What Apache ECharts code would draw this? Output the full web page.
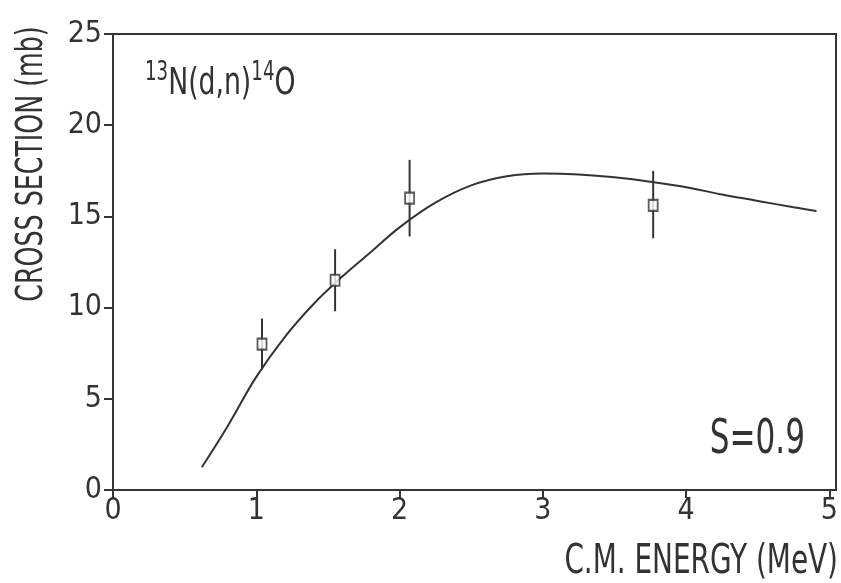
<!DOCTYPE html>
<html><head><meta charset="utf-8">
<script src="https://cdn.jsdelivr.net/npm/echarts@6/dist/echarts.min.js"></script>
<style>html,body{margin:0;padding:0;background:#fff}#c{width:841px;height:583px}</style>
</head><body><div id="c"></div>
<script>
const pointX = [1.04, 1.55, 2.07, 3.77];
const pointY = [8.0, 11.5, 16.0, 15.6];
const errLow = [6.6, 9.8, 13.9, 13.8];
const errHigh = [9.4, 13.2, 18.1, 17.5];
const curveX = [0.62, 0.8, 1.0, 1.2, 1.4, 1.6, 1.8, 2.0, 2.25, 2.5, 2.75, 3.0, 3.25, 3.5, 3.75, 4.0, 4.25, 4.5, 4.75, 4.91];
const curveY = [1.25, 3.5, 6.2, 8.4, 10.2, 11.7, 13.05, 14.4, 15.75, 16.7, 17.2, 17.35, 17.3, 17.15, 16.9, 16.6, 16.2, 15.85, 15.5, 15.3];
const xTicks = [0, 1, 2, 3, 4, 5];
const yTicks = [0, 5, 10, 15, 20, 25];

const FONT = '"DejaVu Sans Condensed","Liberation Sans Narrow","DejaVu Sans",sans-serif';
const INK = '#333';
const chart = echarts.init(document.getElementById('c'));
chart.setOption({
  animation: false,
  grid: {left: 113, right: 5, top: 34, bottom: 93},
  xAxis: {
    type: 'value', min: xTicks[0], max: xTicks[xTicks.length-1], interval: 1,
    axisLine: {lineStyle: {color: INK, width: 2}},
    axisTick: {show: true, inside: false, length: 8, lineStyle: {color: INK, width: 2}},
    axisLabel: {color: INK, fontSize: 30, fontFamily: FONT, margin: 6},
    splitLine: {show: false}
  },
  yAxis: {
    type: 'value', min: yTicks[0], max: yTicks[yTicks.length-1], interval: 5,
    axisLine: {show: true, lineStyle: {color: INK, width: 2}},
    axisTick: {show: true, inside: false, length: 9, lineStyle: {color: INK, width: 2}},
    axisLabel: {color: INK, fontSize: 30, fontFamily: FONT, margin: 11},
    splitLine: {show: false}
  },
  graphic: [
    {type: 'rect', shape: {x: 113, y: 34, width: 723, height: 456}, style: {fill: 'none', stroke: INK, lineWidth: 2}, z: 1},
    {type: 'text', x: 32, y: 164, rotation: Math.PI/2, scaleX: 0.74, style: {text: 'CROSS SECTION (mb)', font: '38px ' + FONT, fill: INK, align: 'center', verticalAlign: 'middle'}},
    {type: 'text', x: 838, y: 563, scaleX: 0.775, style: {text: 'C.M. ENERGY (MeV)', font: '40px ' + FONT, fill: INK, align: 'right', verticalAlign: 'middle'}},
    {type: 'text', x: 805, y: 441, scaleX: 0.72, style: {text: 'S=0.9', font: '48px ' + FONT, fill: INK, align: 'right', verticalAlign: 'middle'}},
    {type: 'text', x: 145, y: 84, scaleX: 0.78, style: {
      text: '{s|13}{n|N(d,n)}{s|14}{n|O}',
      rich: {
        s: {font: '26px ' + FONT, fill: INK, verticalAlign: 'top', padding: [0,0,22,0]},
        n: {font: '38px ' + FONT, fill: INK}
      }, verticalAlign: 'middle'}}
  ],
  series: [
    {type: 'line', data: curveX.map((x, i) => [x, curveY[i]]), smooth: 0.4, showSymbol: false,
     lineStyle: {color: INK, width: 2}},
    {type: 'custom', data: pointX.map((x, i) => [x, errLow[i], errHigh[i]]),
     renderItem: function (params, api) {
       const lo = api.coord([api.value(0), api.value(1)]);
       const hi = api.coord([api.value(0), api.value(2)]);
       return {type: 'line', shape: {x1: lo[0], y1: lo[1], x2: hi[0], y2: hi[1]}, style: {stroke: INK, lineWidth: 2}};
     }, z: 3},
    {type: 'scatter', data: pointX.map((x, i) => [x, pointY[i]]), symbol: 'rect', symbolSize: [9, 11],
     itemStyle: {color: '#fff', borderColor: INK, borderWidth: 2}, z: 4}
  ]
});
</script></body></html>
